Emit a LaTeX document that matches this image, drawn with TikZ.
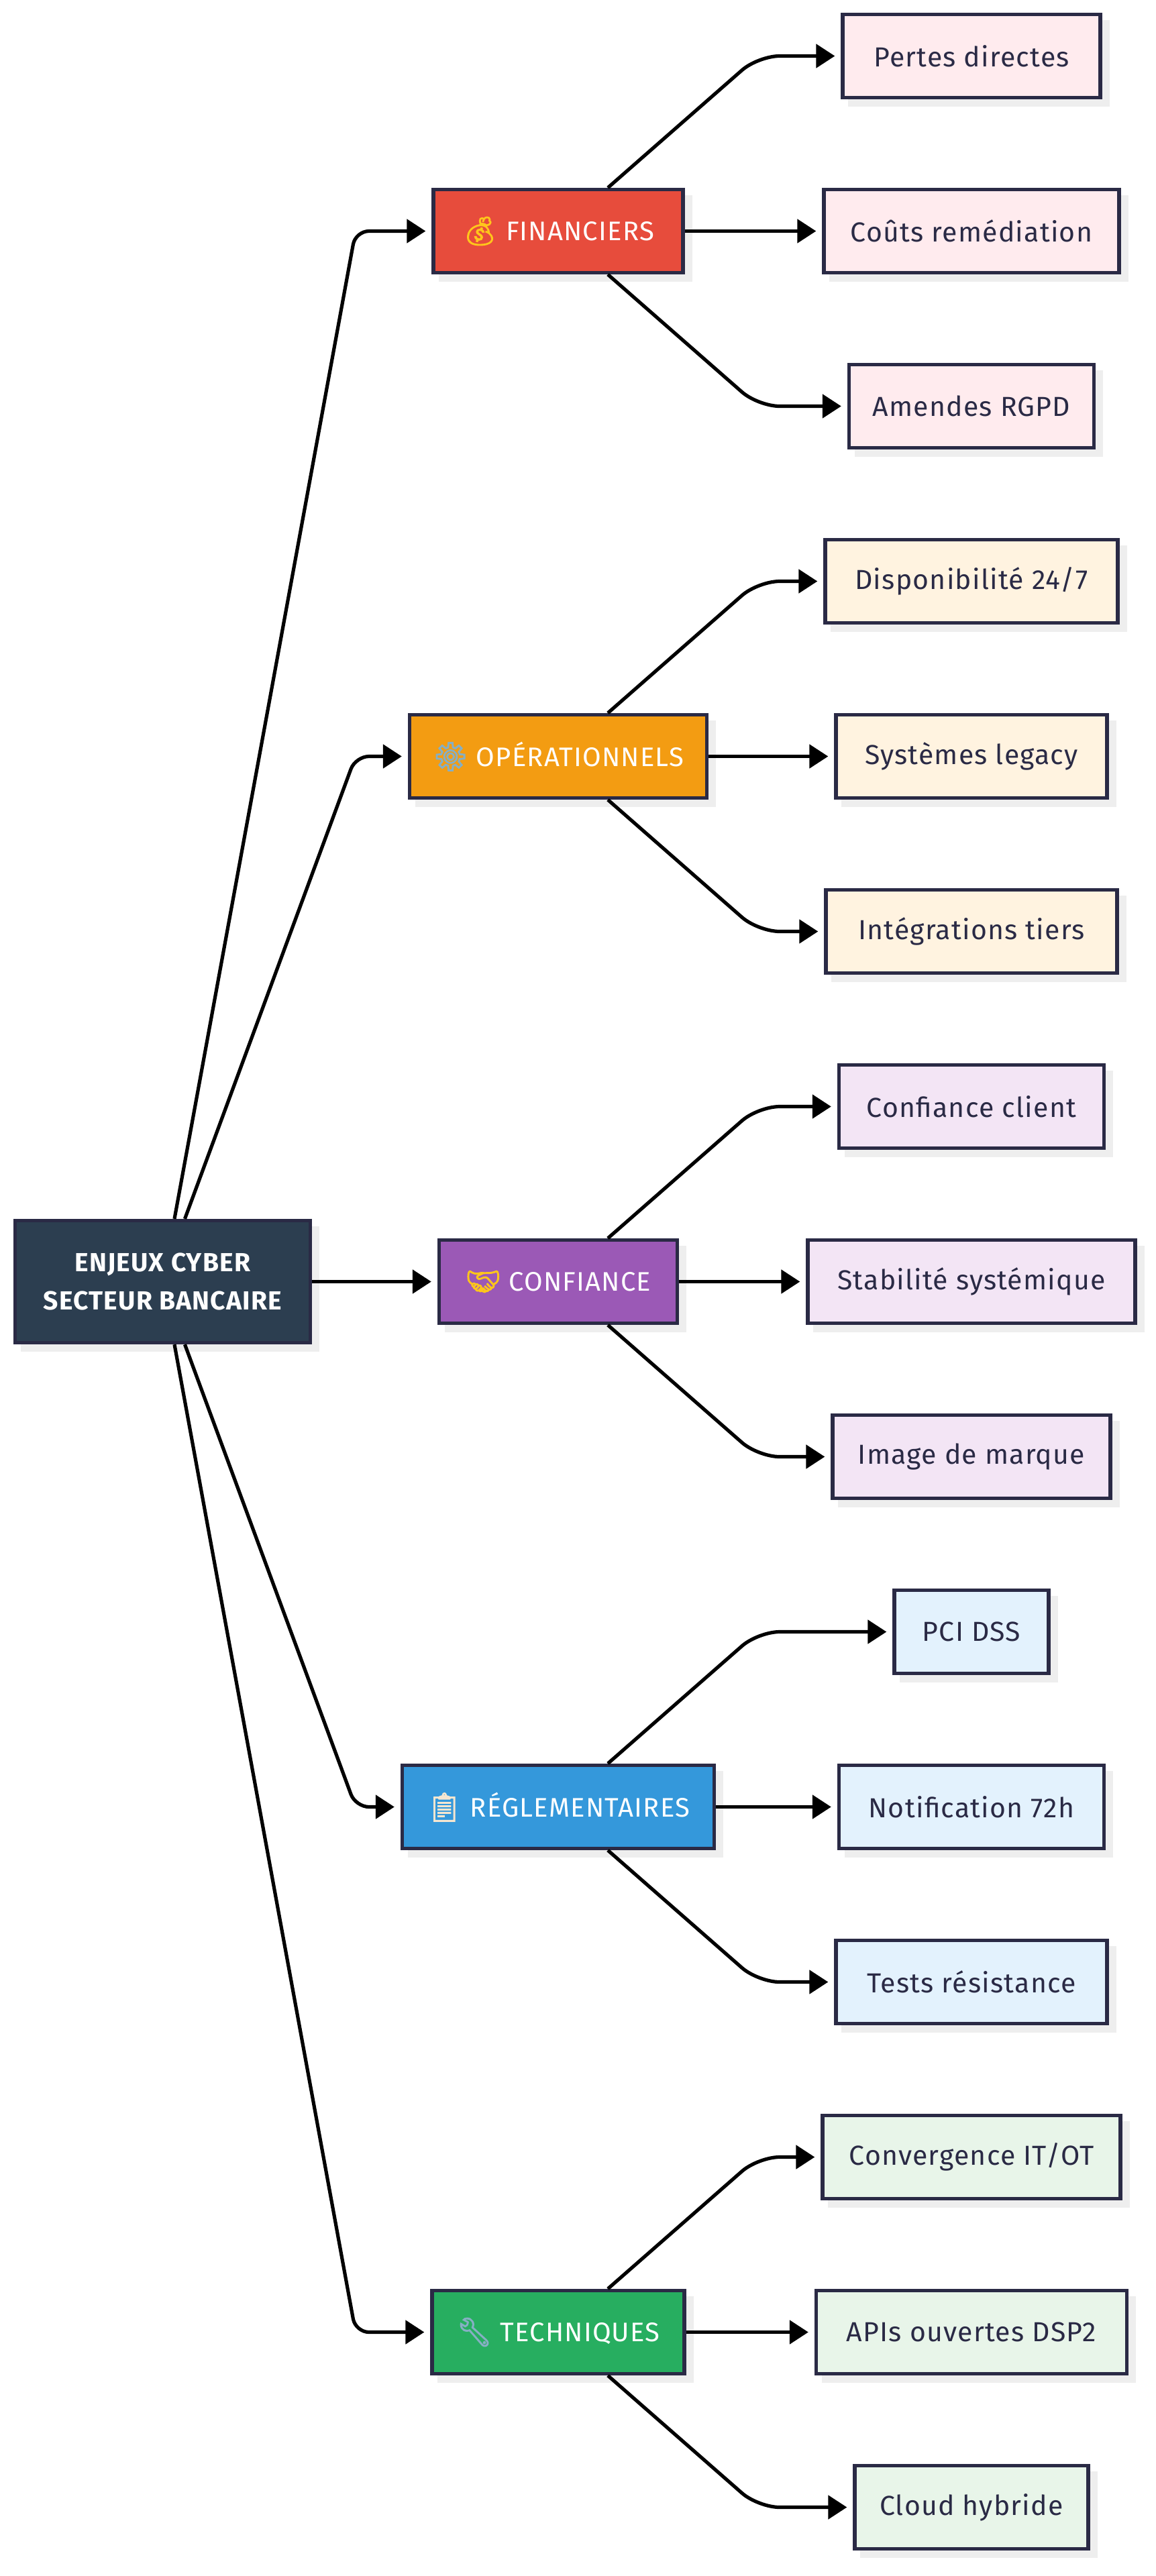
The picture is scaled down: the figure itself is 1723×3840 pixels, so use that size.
\documentclass[tikz,border=0pt]{standalone}
\usepackage{fontspec}
\setmainfont{Fira Sans}[LetterSpace=3]
\newfontfamily\emojifont{Noto Emoji}[FakeBold=3]
\usetikzlibrary{arrows.meta,shadows}

\definecolor{inkblue}{HTML}{2A2A45}
\definecolor{shadowgray}{HTML}{EEEEEE}
\definecolor{rootblue}{HTML}{2C3E50}
\definecolor{finred}{HTML}{E74C3C}
\definecolor{oporange}{HTML}{F39C12}
\definecolor{confpurple}{HTML}{9B59B6}
\definecolor{regblue}{HTML}{3498DB}
\definecolor{techgreen}{HTML}{27AE60}
\definecolor{finpale}{HTML}{FFEBEE}
\definecolor{oppale}{HTML}{FFF3E0}
\definecolor{confpale}{HTML}{F3E5F5}
\definecolor{regpale}{HTML}{E3F2FD}
\definecolor{techpale}{HTML}{E8F5E9}
\definecolor{emogold}{HTML}{FFC61B}
\definecolor{emosteel}{HTML}{86AFC3}
\definecolor{emobrown}{HTML}{F5E6D0}

\newcommand{\emo}[2]{{\emojifont\fontsize{21}{21}\selectfont\textcolor{#1}{#2}}}

\begin{document}
\begin{tikzpicture}[x=0.5pt,y=-0.5pt,
box/.style={draw=inkblue,line width=2.65pt,minimum height=62pt,inner sep=0pt,
 drop shadow={shadow xshift=5.5pt,shadow yshift=-5.5pt,fill=shadowgray,draw=shadowgray,opacity=1}},
root/.style={box,fill=rootblue,text=white,minimum height=91pt,minimum width=220pt,
 align=center,font=\fontsize{19.5}{28.8}\selectfont\bfseries},
cat/.style={box,text=white,font=\fontsize{20}{24}\selectfont},
leaf/.style={box,text=inkblue,font=\fontsize{20.5}{25}\selectfont},
edge/.style={-{Triangle[length=14pt,width=17.5pt]},line width=2.6pt,shorten >=4.5pt,rounded corners=16pt},
rootedge/.style={edge,rounded corners=10pt}]

\useasboundingbox (0,0) rectangle (1723,3840);

\coordinate (bendL) at (530,0);
\coordinate (bendR) at (1130,0);

%centre
\node[root] (enjeux) at (242.5,1910.5) {ENJEUX CYBER\\SECTEUR BANCAIRE};

%categories
\node[cat,fill=finred,minimum width=186pt]      (fin)  at (832,344.5)  {\emo{emogold}{💰} FINANCIERS};
\node[cat,fill=oporange,minimum width=221.5pt]  (op)   at (832,1127.5) {\emo{emosteel}{⚙} OPÉRATIONNELS};
\node[cat,fill=confpurple,minimum width=177.5pt] (conf) at (832,1910.5) {\emo{emogold}{🤝} CONFIANCE};
\node[cat,fill=regblue,minimum width=232.5pt]   (reg)  at (832,2693.5) {\emo{emobrown}{📋} RÉGLEMENTAIRES};
\node[cat,fill=techgreen,minimum width=188pt]   (tech) at (832,3476.5) {\emo{emosteel}{🔧} TECHNIQUES};

%leaves
\node[leaf,fill=finpale,minimum width=192pt]    (pertes)  at (1448,83.5)   {Pertes directes};
\node[leaf,fill=finpale,minimum width=220pt]    (couts)   at (1448,344.5)  {Coûts remédiation};
\node[leaf,fill=finpale,minimum width=182.5pt]  (amendes) at (1448,605.5)  {Amendes RGPD};

\node[leaf,fill=oppale,minimum width=218pt]     (dispo)   at (1448,866.5)  {Disponibilité 24/7};
\node[leaf,fill=oppale,minimum width=202pt]     (legacy)  at (1448,1127.5) {Systèmes legacy};
\node[leaf,fill=oppale,minimum width=217pt]     (integ)   at (1448,1388.5) {Intégrations tiers};

\node[leaf,fill=confpale,minimum width=197.5pt] (client)  at (1448,1649.5) {Confiance client};
\node[leaf,fill=confpale,minimum width=244pt]   (stab)    at (1448,1910.5) {Stabilité systémique};
\node[leaf,fill=confpale,minimum width=207pt]   (image)   at (1448,2171.5) {Image de marque};

\node[leaf,fill=regpale,minimum width=115pt]    (pci)     at (1448,2432.5) {PCI DSS};
\node[leaf,fill=regpale,minimum width=197.5pt]  (notif)   at (1448,2693.5) {Notification 72h};
\node[leaf,fill=regpale,minimum width=202pt]    (tests)   at (1448,2954.5) {Tests résistance};

\node[leaf,fill=techpale,minimum width=222pt]   (itot)    at (1448,3215.5) {Convergence IT/OT};
\node[leaf,fill=techpale,minimum width=231.5pt] (apis)    at (1448,3476.5) {APIs ouvertes DSP2};
\node[leaf,fill=techpale,minimum width=174pt]   (cloud)   at (1448,3737.5) {Cloud hybride};

%links from the centre
\draw[rootedge] ([xshift=8.75pt]enjeux.north)  -- (bendL |- fin.west)  -- (fin.west);
\draw[rootedge] ([xshift=16.5pt]enjeux.north)  -- (bendL |- op.west)   -- (op.west);
\draw[edge]     (enjeux.east) -- (conf.west);
\draw[rootedge] ([xshift=16.5pt]enjeux.south)  -- (bendL |- reg.west)  -- (reg.west);
\draw[rootedge] ([xshift=8.75pt]enjeux.south)  -- (bendL |- tech.west) -- (tech.west);

%links to the leaves
\foreach \c/\up/\mid/\down in {fin/pertes/couts/amendes,op/dispo/legacy/integ,
 conf/client/stab/image,reg/pci/notif/tests,tech/itot/apis/cloud}
{
 \draw[edge] ([xshift=37pt]\c.north) -- (bendR |- \up.west) -- (\up.west);
 \draw[edge] (\c.east) -- (\mid.west);
 \draw[edge] ([xshift=37pt]\c.south) -- (bendR |- \down.west) -- (\down.west);
}

\end{tikzpicture}
\end{document}
